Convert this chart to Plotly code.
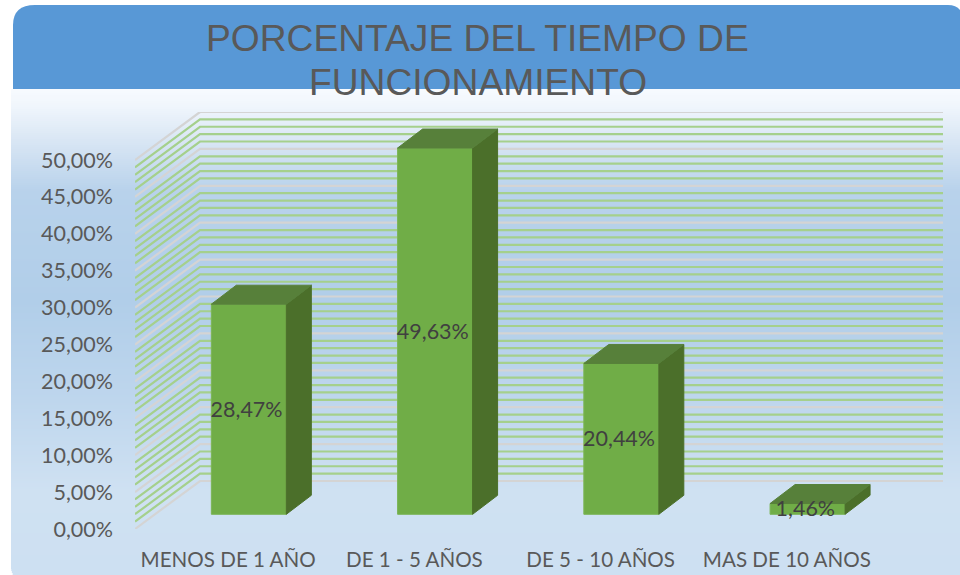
import plotly.graph_objects as go

CATEGORIES = ["MENOS DE 1 AÑO", "DE 1 - 5 AÑOS", "DE 5 - 10 AÑOS", "MAS DE 10 AÑOS"]
VALUES = [28.47, 49.63, 20.44, 1.46]
Y_TICKS = [0, 5, 10, 15, 20, 25, 30, 35, 40, 45, 50]
MINOR_TICKS = [v for v in range(0, 51) if v % 5]
TITLE_LINES = ["PORCENTAJE DEL TIEMPO DE", "FUNCIONAMIENTO"]

W, H = 960, 575
PX_CAT = 186.25
PX_PCT = 7.38
X_LEFT, X_RIGHT, Y_BOT, Y_TOP = 135, 943, 529, 112
X0 = -0.5
X1 = X0 + (X_RIGHT - X_LEFT) / PX_CAT
Y1 = (Y_BOT - Y_TOP) / PX_PCT
WALL_DX, WALL_DY = 65 / PX_CAT, 48 / PX_PCT
BAR_OFF_X, BAR_OFF_Y = 20.7 / PX_CAT, 14.7 / PX_PCT
BAR_DX, BAR_DY = 25 / PX_CAT, 19 / PX_PCT
BAR_W = 75 / PX_CAT

C_FRONT, C_SIDE, C_TOP = "#70AD47", "#4B6F2A", "#57803A"
C_GRID, C_MINOR = "#D4D4D4", "#A5D08C"


def px(x):
    return x / W


def py(y):
    return 1 - y / H


shapes = []
# panel gradient
STOPS = [(89, (247, 250, 254)), (105, (240, 246, 252)), (135, (220, 232, 245)), (190, (184, 210, 235)),
         (300, (177, 206, 233)), (400, (190, 214, 237)), (490, (207, 225, 242)), (575, (205, 224, 242))]


def grad(y):
    for (a, ca), (b, cb) in zip(STOPS, STOPS[1:]):
        if a <= y <= b:
            t = (y - a) / (b - a)
            return "rgb(%d,%d,%d)" % tuple(round(ca[i] + t * (cb[i] - ca[i])) for i in range(3))
    return "rgb(205,224,242)"


for y in range(89, 575, 2):
    x_left = 11 if y < 562 else 11 + (y - 562) ** 2 / 30
    shapes.append(dict(type="rect", xref="paper", yref="paper", layer="below",
                       x0=px(x_left), x1=1, y0=py(y), y1=py(min(y + 6, 575)),
                       fillcolor=grad(y), line_width=0))
# header with rounded top corners
header = (f"M {px(13)} {py(89)} L {px(13)} {py(25)} Q {px(13)} {py(5)} {px(35)} {py(5)} "
          f"L {px(948)} {py(5)} Q {px(956)} {py(5)} {px(960)} {py(10)} L {px(960)} {py(89)} Z")
shapes.append(dict(type="path", path=header, xref="paper", yref="paper", layer="below",
                   fillcolor="#5898D6", line_width=0))


def wall_line(v):
    return (f"M {X0} {v} L {X0 + WALL_DX} {v + WALL_DY} L {X1} {v + WALL_DY}")


for v in MINOR_TICKS:
    shapes.append(dict(type="path", path=wall_line(v), xref="x", yref="y", layer="below",
                       line=dict(color=C_MINOR, width=2.2)))
for v in Y_TICKS:
    shapes.append(dict(type="path", path=wall_line(v), xref="x", yref="y", layer="below",
                       line=dict(color=C_GRID, width=2.2)))

fig = go.Figure()
xs = [i + BAR_OFF_X for i in range(len(VALUES))]
fig.add_trace(go.Bar(x=xs, y=VALUES, base=BAR_OFF_Y, width=BAR_W,
                     marker=dict(color=C_FRONT, line=dict(color="#7BB556", width=1)),
                     hoverinfo="x+y"))
for x, v in zip(xs, VALUES):
    l, r = x - BAR_W / 2, x + BAR_W / 2
    b, t = BAR_OFF_Y, BAR_OFF_Y + v
    fig.add_trace(go.Scatter(x=[r, r + BAR_DX, r + BAR_DX, r, r], y=[b, b + BAR_DY, t + BAR_DY, t, b],
                             mode="lines", fill="toself", fillcolor=C_SIDE,
                             line=dict(color=C_SIDE, width=1), hoverinfo="skip"))
    fig.add_trace(go.Scatter(x=[l, l + BAR_DX, r + BAR_DX, r, l], y=[t, t + BAR_DY, t + BAR_DY, t, t],
                             mode="lines", fill="toself", fillcolor=C_TOP,
                             line=dict(color=C_TOP, width=1), hoverinfo="skip"))
fig.add_trace(go.Scatter(x=[x - 0.012 for x in xs], y=[BAR_OFF_Y + v / 2 - 2 / PX_PCT for v in VALUES],
                         customdata=VALUES, texttemplate="%{customdata:.2f}%", mode="text",
                         textposition="middle center", cliponaxis=False,
                         textfont=dict(family="Lato", size=21.5, color="#404040"), hoverinfo="skip"))

annotations = [dict(text=TITLE_LINES[i], xref="paper", yref="paper", x=px(477.5), y=py(yc),
                    xanchor="center", yanchor="middle", showarrow=False,
                    font=dict(family="Liberation Sans", size=37.2, color="#595959"))
               for i, yc in enumerate([38, 82])]

fig.update_layout(
    width=W, height=H, margin=dict(l=0, r=0, t=0, b=0, autoexpand=False), autosize=False,
    paper_bgcolor="white", plot_bgcolor="rgba(0,0,0,0)", showlegend=False,
    separators=",.", shapes=shapes, annotations=annotations,
    xaxis=dict(domain=[px(X_LEFT), px(X_RIGHT)], range=[X0, X1], tickmode="array",
               tickvals=list(range(len(CATEGORIES))), automargin=False,
               ticktext=CATEGORIES, showgrid=False, zeroline=False, showline=False, ticks="",
               tickfont=dict(family="Lato", size=20.6, color="#595959"), ticklabelstandoff=16),
    yaxis=dict(domain=[py(Y_BOT), py(Y_TOP)], range=[0, Y1], tickmode="array", tickvals=Y_TICKS, automargin=False,
               ticktext=[f"{v:.2f}%".replace(".", ",") for v in Y_TICKS],
               showgrid=False, zeroline=False, showline=False, ticks="",
               tickfont=dict(family="Lato", size=21.5, color="#595959"), ticklabelstandoff=21),
)
fig.write_html("out.html", config={"displayModeBar": False}, post_script="document.body.style.margin='0';")
